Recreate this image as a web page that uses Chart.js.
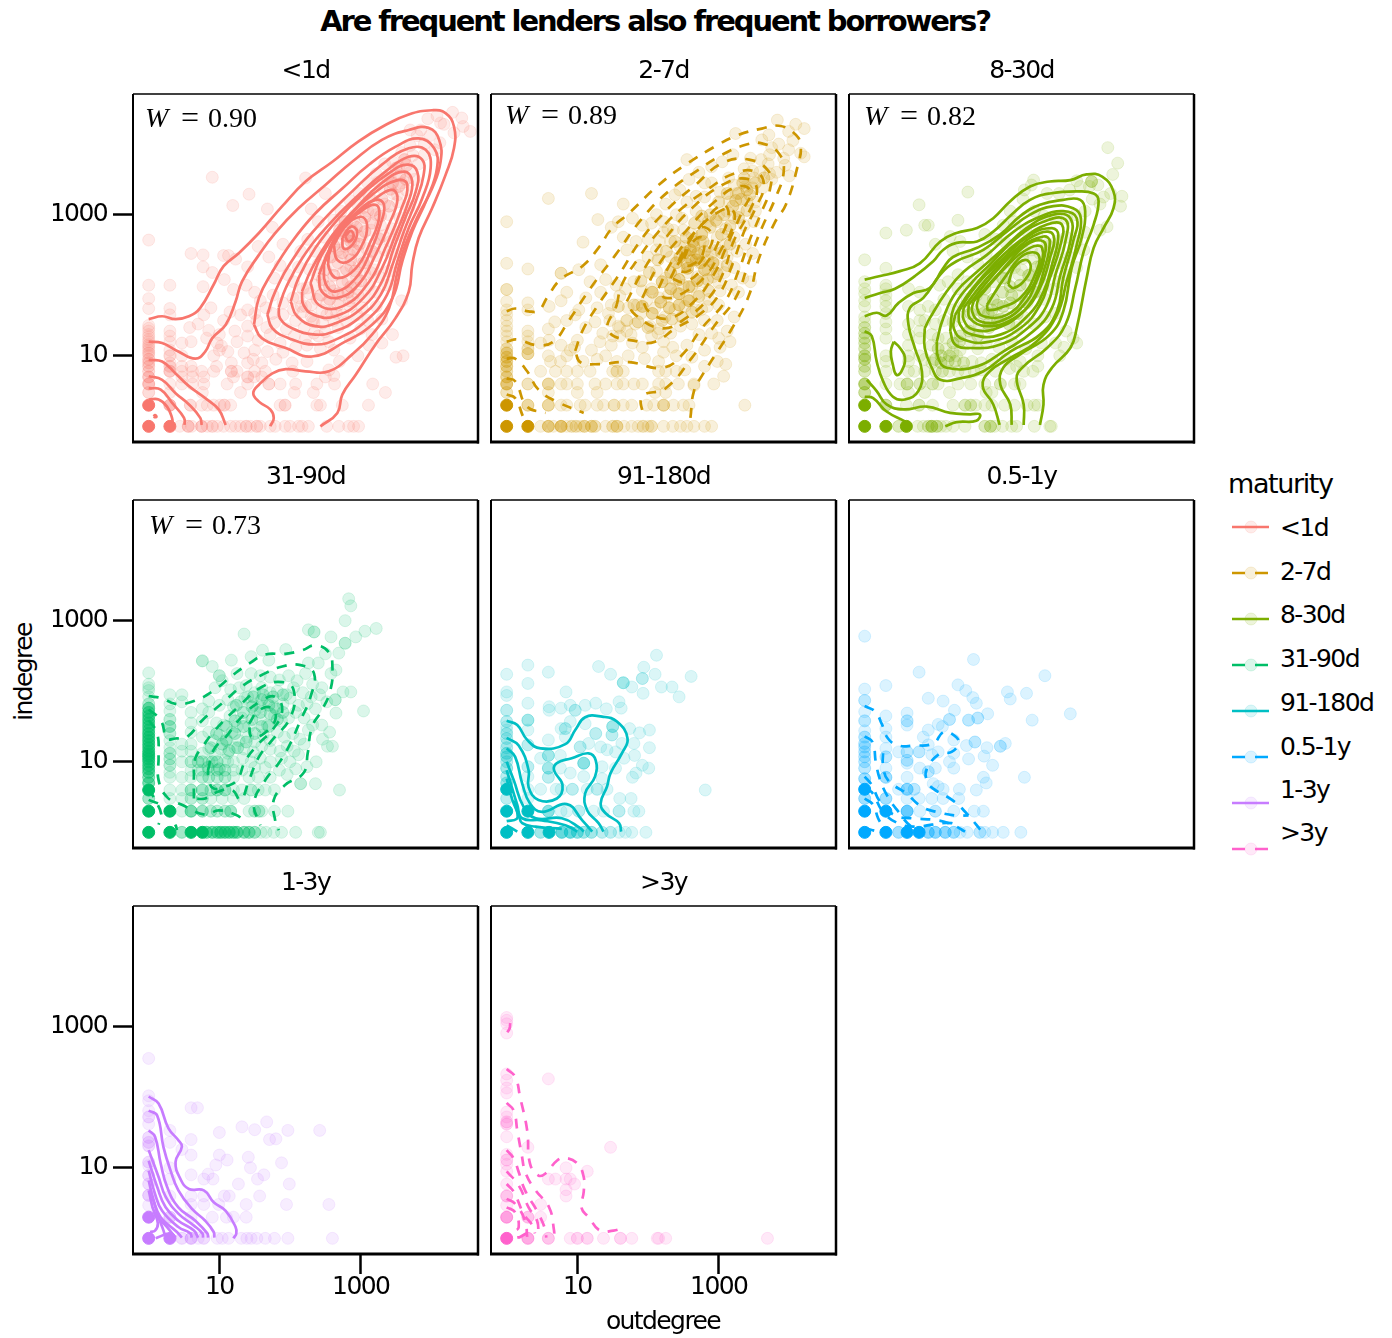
<!DOCTYPE html>
<html>
<head>
<meta charset="utf-8">
<script src="https://cdn.jsdelivr.net/npm/chart.js@4/dist/chart.umd.min.js"></script>
<style>
  html, body { margin: 0; background: #fff; }
  #page { position: relative; width: 1392px; height: 1338px; overflow: hidden; font-family: "DejaVu Sans"; color: #000; }
  #page canvas { position: absolute; }
  .txt { position: absolute; white-space: nowrap; letter-spacing: -1.6px; font-size: 25px; line-height: 30px; }
</style>
</head>
<body>
<div id="page"></div>
<script>
// all degree values are log10(degree) x 100. third number = overplotted count
const maturities = ["<1d", "2-7d", "8-30d", "31-90d", "91-180d", "0.5-1y", "1-3y", ">3y"];
const colors = ["#F8766D", "#CD9600", "#7CAE00", "#00BE67", "#00BFC4", "#00A9FF", "#C77CFF", "#FF61CC"];
const wLabels = ["0.90", "0.89", "0.82", "0.73", null, null, null, null];
const tickValues = [10, 1000];

const pointsLt1d = [
  [0,264],[0,200],[0,181],[0,167],[0,143],[0,139],[0,135],[0,130],[0,127],[0,123],[0,120],[0,116],[0,114],[0,111],[0,108],[0,104,2],[0,100],[0,95,2],[0,90,2],[0,85,2],[0,78,2],[0,70,3],[0,60,4],[0,48,2],[0,30,25],[0,0,30],
  [30,200],[30,167],[30,158],[30,135],[30,128],[30,120],[30,108],[30,100,2],[30,90],[30,85,2],[30,78,3],[30,60],[30,48],[30,30,4],[30,0,25],
  [44,0],[56,0,3],[61,0],[75,0,3],[83,0],[90,0,2],[97,0],[106,0],[116,0],[123,0],[130,0],[138,0,2],[144,0],[153,0,2],[158,0],[172,0],[179,0],[193,0],[200,0],[212,0],[217,0],[226,0],[252,0],[269,0],[283,0],[290,0],[297,0],
  [59,30,2],[75,30],[83,30],[92,30],[101,30],[107,30,2],[116,30],[186,30],[193,30,2],[238,30],[243,30],[274,30],[311,30],
  [76,48],[130,48],[206,48],[233,48],[335,48],[47,60],[62,60],[78,60],[111,60],[140,60],[170,60,2],[186,60],[208,60],[238,60],[263,60],[317,60],
  [47,70],[62,70],[78,70],[120,70],[140,70,2],[149,70],[160,70],[250,70],[262,72],[47,78],[62,78],[75,78],[92,78],[117,78,2],[125,78],[150,78],[165,78],[204,78],[255,80],
  [47,85],[60,85],[96,85],[117,90],[140,90],[148,95],[160,90],[180,95],[203,90],[224,92],[270,92],[350,98],[360,100],
  [47,100],[92,100],[100,108],[112,106],[135,104],[150,108],[168,106],[190,105],[208,112],[224,115],[243,110],[262,108],[296,100],[312,115],[330,118],
  [47,118],[60,120],[82,125],[97,118],[103,114],[125,120],[140,128],[155,122],[172,130],[186,118],[206,128],[222,125],[240,128],[255,120],[285,125],[316,130],[345,130],
  [58,140],[70,145],[85,136],[100,130],[122,135],[140,142],[153,150],[167,140],[178,147],[195,138],[208,150],[220,140],[234,132],[250,134],[268,140],[300,138],[330,152],
  [78,158],[88,168],[106,150],[115,162],[130,158],[140,165],[150,160],[166,168],[175,160],[190,158],[205,165],[218,162],[232,150],[246,146],[262,150],[280,148],[310,150],[358,178],
  [77,198],[90,218],[107,208],[120,194],[60,245],[77,243],[77,226],[106,242],[113,242],[123,237],[140,226],[138,200],[150,190],[158,178],[176,186],[190,175],[204,182],[216,170],[230,172],[245,165],[258,162],[275,158],[295,158],
  [90,353],[142,329],[119,313],[168,308],[175,282],[190,258],[155,255],[170,240],[186,228],[197,215],[178,210],[205,205],[218,195],[228,188],[238,180],[252,175],[268,172],[285,170],[302,168],[322,170],
  [222,352],[230,308],[250,330],[240,290],[225,265],[215,248],[236,248],[212,226],[228,222],[240,215],[248,200],[262,192],[275,186],[288,182],[305,184],[322,190],[338,200],
  [248,268],[262,292],[255,242],[268,250],[264,228],[275,218],[282,205],[295,195],[312,200],[326,212],[340,220],[345,245],
  [272,305],[285,320],[298,330],[280,290],[292,300],[275,272],[288,278],[300,285],[268,262],[278,255],[290,262],[302,268],[315,278],[272,240],[284,244],[296,248],[308,252],[320,260],[332,270],[286,226],[298,230],[310,236],[322,242],[334,250],[294,212],[306,216],[318,222],[284,268,2],[280,270,2],[290,250,2],[276,282],[296,270],
  [310,345],[322,358],[334,372],[318,320],[330,338],[342,352],[354,368],[310,305],[322,300],[334,315],[346,330],[358,345],[370,360],[328,285],[340,300],[352,318],[364,335],[376,350],[344,280],[356,295],[368,310],[342,262],[354,272],[345,375],[358,388],[370,398],[382,372],[390,385],[345,345,2],[355,355,2],[365,370,2],
  [385,420],[395,436],[408,440],[418,428],[398,412],[405,392],[390,400],[412,402],[430,445],[443,437],[432,416],[413,430],[445,425],[455,418],[380,412],[370,420]
];
const coreLt1d = [
  [270,278,2],[278,290,2],[286,262,2],[294,282,2],[262,256,2],[274,246,2],[286,236,2],[298,258,2],[306,276,2],[268,232],[280,222,2],[292,220,2],[304,232,2],[316,248,2],[326,266,2],[258,240,2],[250,222,2],[262,214,2],[274,204,2],[286,198,2],[300,206,2],[314,218],[240,230],[246,208,2],[256,198,2],[268,188,2],[282,190,2],[296,186],[236,200],[244,186,2],[256,180,2],[270,176],[284,178],[306,296,2],[318,306,2],[330,322,2],[342,336,2],[354,340,2],[316,288,2],[328,298,2],[340,312,2],[352,328],[364,350,2],[338,352,2],[350,366,2],[362,378,2],[374,384],[230,156],[222,170],[212,182],[224,196],[234,148],[252,158],[266,160],[290,292],[304,310],[296,314],[312,326],[324,346]
];
const openLt1d = [
  [[0,152],[19,156],[38,152],[57,156],[73,168],[92,201],[106,227],[127,245],[156,274],[189,312],[222,347],[260,375],[297,404],[335,427],[368,442],[401,448],[420,444],[432,425],[432,394],[420,356],[401,309],[382,267],[373,229],[368,191],[349,153],[321,116],[293,73],[274,45],[267,19],[243,0]],
  [[0,120],[19,118],[42,106],[66,96],[80,106],[90,125],[109,144],[123,177],[132,205],[156,243],[179,274],[212,309],[250,342],[288,375],[330,406],[368,420],[396,423],[411,406],[413,375],[401,337],[382,300],[363,257],[352,219],[340,167],[316,130],[288,102],[255,78],[222,78],[194,81],[175,75],[156,59],[148,47],[156,35],[172,24],[177,12],[172,0]],
  [[0,94],[19,92],[38,75],[57,57],[80,40],[99,24],[109,2]],
  [[0,71],[19,66],[38,47],[57,31],[73,12],[75,2]],
  [[0,54],[17,52],[35,31],[50,12],[51,2]],
  [[0,38],[14,38],[26,28],[33,12],[34,2]]
];
const closedLt1d = [
  [[7,14],[9,16],[11,14],[9,13]],
  [[149,144],[156,182],[175,219],[203,262],[236,302],[274,337],[312,371],[349,396],[382,408],[404,394],[408,366],[394,323],[373,276],[359,234],[345,182],[316,144],[278,120],[231,99],[194,111],[160,125]],
  [[168,158],[179,191],[208,243],[245,290],[288,333],[330,371],[368,394],[392,392],[399,366],[387,323],[368,281],[352,234],[337,186],[307,149],[269,125],[236,116],[198,125],[175,139]],
  [[184,168],[194,196],[217,238],[255,286],[297,328],[335,361],[368,382],[387,378],[389,356],[378,319],[361,276],[345,229],[328,186],[297,153],[264,135],[236,130],[203,139],[186,153]],
  [[201,177],[212,210],[236,253],[269,295],[307,333],[340,359],[366,371],[380,361],[378,333],[363,295],[347,253],[330,205],[302,168],[264,146],[236,142],[210,156]],
  [[217,191],[231,224],[260,271],[293,309],[330,345],[361,361],[373,347],[366,314],[349,271],[330,224],[304,182],[264,156],[234,158],[219,172]],
  [[229,203],[245,243],[278,290],[316,328],[352,349],[366,342],[356,304],[335,253],[312,205],[274,170],[241,172]],
  [[241,215],[257,253],[288,295],[321,323],[345,335],[352,321],[340,286],[321,243],[297,201],[267,182],[245,191]],
  [[248,229],[262,264],[293,302],[321,321],[333,314],[328,286],[314,248],[293,210],[264,191],[250,203]],
  [[255,243],[269,276],[297,302],[321,314],[326,295],[314,262],[293,224],[267,210],[255,224]],
  [[262,257],[278,283],[300,297],[309,286],[302,257],[283,234],[267,236]],
  [[274,267],[286,283],[295,276],[288,257],[276,252]],
  [[278,269],[286,277],[290,269],[283,262]]
];

const points2to7d = [
  [0,231],[0,194,2],[0,177],[0,165],[0,158],[0,150],[0,142],[0,135],[0,128],[0,120],[0,110,2],[0,104,3],[0,98,3],[0,92,3],[0,85,3],[0,78,2],[0,70,3],[0,60,5],[0,48,2],[0,30,18],[0,0,25],
  [30,223],[30,175],[30,165],[30,135],[30,128],[30,120],[30,110,2],[30,103,3],[30,60],[30,30,3],[30,0,22],
  [48,0],[59,0,4],[66,0],[77,0,5],[85,0],[92,0,2],[98,0,2],[104,0],[110,0,3],[120,0,3],[125,0,2],[140,0],[150,0,2],[156,0,3],[166,0],[177,0],[186,0],[193,0,2],[200,0],[205,0,2],[222,0],[235,0],[246,0],[255,0],[265,0],[280,0],[290,0],
  [59,30,3],[77,30],[85,30],[104,30],[111,30],[128,30],[137,30],[152,30,2],[165,30],[177,30],[198,30],[208,30],[222,30],[222,30,2],[236,30],[250,30],[258,30],[337,30],
  [59,48],[100,48],[128,48],[210,48],[225,48],[265,60],[30,60],[59,60,3],[77,60],[85,60],[100,60],[125,60],[140,60],[156,60],[165,60],[180,60],[192,60],[215,60],[225,60],[243,60],[265,58],[293,60],[307,71],
  [48,78],[69,78],[85,78],[100,78],[118,78],[150,78],[156,78,2],[165,78],[215,78],[225,78],[240,78],[252,80],[280,85],[298,92],[310,88],
  [59,100],[62,92],[76,92],[85,100],[90,108],[108,92],[128,95],[140,100],[156,92],[172,100],[195,96],[215,92],[222,105],[240,100],[262,98],[280,108],[302,112],[316,120],[300,125],
  [48,118],[60,122],[77,115],[96,112],[100,122],[120,108],[132,120],[148,115],[160,128],[178,118],[192,112],[205,128],[222,120],[235,112],[255,115],[272,130],[290,132],[312,135],
  [59,138],[68,148],[85,150],[97,158],[112,140],[125,148],[136,132],[144,160],[158,142],[170,135],[182,145],[190,160],[203,142],[216,138],[232,132],[246,142],[262,145],[280,150],[298,150],[322,155],
  [60,170],[77,178],[85,190],[102,165],[112,182],[128,168],[133,190],[148,172],[160,185],[172,168],[185,172],[198,178],[210,168],[224,155],[238,165],[252,170],[268,165],[284,170],[300,172],[328,190],
  [77,217],[77,217],[102,222],[133,229],[118,205],[140,208],[155,200],[168,195],[180,205],[192,192],[205,195],[216,182],[228,185],[240,190],[255,180],[270,188],[286,180],[302,192],[318,200],[334,210],[345,205],
  [0,290],[120,330],[59,323],[165,315],[129,293],[108,261],[158,290],[148,282],[165,268],[178,295],[170,250],[183,262],[192,285],[200,240],[212,220],[225,210],[238,208],[250,200],[262,198],[278,205],[292,212],[308,218],[322,225],
  [188,228],[200,265],[212,250],[222,275],[232,240],[244,225],[256,218],[270,212],[285,222],[298,228],[312,240],[326,248],[338,258],[348,245],
  [212,300],[225,315],[238,328],[205,288],[222,290],[236,278],[248,295],[232,262],[245,255],[258,240],[272,232],[284,240],[298,250],[310,258],[322,268],[336,285],[350,290],
  [245,335],[258,350],[272,360],[255,318],[268,305],[280,325],[250,278],[262,272],[274,262],[286,255],[298,268],[310,280],[322,295],[260,250,3],[270,245,3],[262,235,2],[280,248,2],[275,232,2],[265,255,2],[255,230,2],[285,235],[290,245],[245,240,2],[278,262,2],[252,255],
  [290,345],[302,332],[315,318],[328,305],[340,320],[352,305],[300,300],[285,290],[298,290],[312,305],[325,330],[338,340],[350,352],[362,338],[375,350],[290,368],[305,375],[320,385],[336,365],[345,380],[358,360],[370,372],[382,360],[394,370],[400,355],
  [328,330,2],[340,335,2],[334,345,2],[322,342],[348,338],[314,352],[255,378],[324,415],[383,434],[409,428],[421,422],[399,418],[371,413],[361,406],[399,392],[416,387],[421,382],[375,395],[392,380],[385,400],[405,405]
];
const core2to7d = [
  [240,232,3],[252,246,3],[264,262,3],[276,272,3],[288,282,2],[232,218,3],[244,208,3],[256,224,3],[268,236,3],[280,222,3],[292,232,3],[304,246,2],[316,258,2],[220,205,3],[232,195,3],[244,188,3],[258,198,3],[270,206,3],[284,208,2],[298,216,2],[312,228,2],[206,190,3],[218,176,3],[230,168,3],[244,172,3],[258,178,3],[272,184,2],[286,192,2],[300,204],[192,170,3],[206,160,3],[220,150,2],[234,152,2],[248,155,2],[262,162,2],[276,166],[180,172,2],[186,148,2],[200,140,2],[214,132],[170,150,2],[176,130],[158,170,2],[146,150],[160,140],[150,128],
  [296,292,2],[308,300,2],[320,312,2],[332,322,2],[344,328,2],[304,272,2],[316,284,2],[328,296,2],[340,306,2],[352,318],[300,318,2],[312,330,2],[324,320,2],[336,352,2],[352,345,2],[364,352,2],[372,358],[288,300,2],[276,298,2],[266,288,2],[254,268,2],[238,262,2],[226,248,2],[214,236,2],[202,218,2],[190,206,2],[268,326],[280,345],[240,300],[228,280],[216,262],[348,362],[360,378],[372,385]
];
const open2to7d = [
  [[0,163],[12,167],[31,163],[45,164],[57,182],[76,208],[107,227],[130,253],[149,281],[173,302],[215,342],[252,370],[299,399],[328,413],[361,422],[385,426],[406,416],[416,399],[411,366],[395,314],[380,290],[357,238],[343,186],[319,139],[295,101],[277,73],[265,50],[260,12]],
  [[0,120],[15,123],[43,115],[66,120],[88,150],[118,195],[154,243],[192,295],[229,333],[272,364],[305,385],[338,399],[361,401],[385,387],[392,361],[380,323],[361,281],[343,234],[324,182],[295,144],[262,97],[225,54],[192,42],[194,12]],
  [[0,96],[12,96],[29,78],[45,52],[71,35],[109,19]],
  [[0,68],[12,64],[29,28],[55,19]],
  [[0,45],[12,40],[24,12],[29,5]]
];
const closed2to7d = [
  [[97,107],[107,135],[130,173],[159,215],[192,267],[229,309],[267,342],[305,373],[343,378],[371,361],[373,338],[359,300],[343,262],[328,220],[309,177],[276,139],[248,101],[220,83],[173,91],[125,88],[104,91]],
  [[156,173],[163,201],[187,239],[215,276],[248,309],[286,337],[321,358],[352,361],[364,342],[352,309],[336,276],[321,234],[300,186],[272,158],[239,139],[210,120],[187,120],[144,135]],
  [[170,177],[192,219],[225,267],[262,309],[305,342],[338,351],[354,337],[343,304],[321,262],[307,219],[286,182],[253,153],[220,139],[182,158]],
  [[192,182],[215,229],[253,276],[295,319],[328,340],[345,333],[333,304],[312,257],[293,215],[265,177],[229,153],[201,163]],
  [[215,196],[234,234],[267,276],[300,304],[319,307],[321,286],[302,248],[283,215],[253,191],[225,182]],
  [[232,210],[253,253],[276,286],[305,314],[314,300],[300,262],[281,229],[253,205]],
  [[248,238],[272,281],[291,272],[281,243],[257,220],[241,224]],
  [[251,238],[262,260],[277,267],[277,243],[262,229],[253,229]]
];

const points8to30d = [
  [0,236],[0,205],[0,195],[0,188],[0,178],[0,170],[0,155],[0,148],[0,140,2],[0,132,2],[0,125,2],[0,118,2],[0,110,2],[0,100,3],[0,95,3],[0,85,2],[0,78,2],[0,60,5],[0,48,3],[0,30,25],[0,0,30],
  [30,274],[30,224],[30,200],[30,195],[30,186],[30,178],[30,170],[30,160],[30,148],[30,138],[30,125],[30,100],[30,92],[30,78],[30,60],[30,30,3],[30,0,25],
  [48,0,2],[59,0,8],[75,0],[83,0],[90,0,2],[95,0,5],[102,0,3],[108,0],[115,0],[125,0],[142,0],[170,0,2],[178,0,3],[184,0],[195,0],[208,0],[215,0],[240,0],[262,0],[264,0],
  [59,30],[77,30,2],[96,30],[125,30],[142,30,2],[150,30,2],[157,30],[170,30],[180,30],[198,30],[212,30],[230,30],[245,30],[240,30],[50,60],
  [60,60,3],[78,60,2],[96,60,2],[104,60],[132,60],[150,60],[170,60],[192,60,2],[212,60],[220,60],[62,48],[85,48],[120,48],[172,48],[180,48],[238,78],[225,78],[245,85],
  [62,78],[70,78],[85,78],[100,78],[110,78,2],[120,78],[132,78],[142,78],[155,78],[165,80],[185,78],[205,82],[215,85],[62,92],[62,100],[78,100],[85,95],[95,90],[108,90,2],[118,92,2],[128,92,2],[140,90,2],[152,92],[165,90],[180,95],[200,95],[220,92],[245,100],
  [62,115],[62,130],[62,145],[78,125],[78,135],[78,150],[78,165],[95,115],[95,130],[104,110,2],[104,125],[115,110],[115,125],[125,105],[125,118,2],[135,108],[135,128,2],[150,120],[160,110],[172,118],[190,112],[208,120],[228,110],[250,118],[270,118],[282,112],[295,125],[285,135],[300,118],[276,100],
  [62,170],[62,195],[78,190],[90,170],[85,150],[100,145],[100,165],[112,150],[112,180],[125,148],[125,165],[135,155],[140,170],[150,145],[150,160,2],[162,145],[162,165],[175,145,2],[175,160,2],[188,150,2],[188,172,2],[200,155],[215,140],[225,155],[240,145],[255,155],[270,160],
  [106,200],[118,205],[132,195],[132,215],[145,180],[145,205],[158,185],[158,200],[170,178,2],[170,195,2],[182,180,2],[182,205],[195,190,2],[195,210,2],[206,175,2],[206,198,2],[218,185],[218,215],[230,175],[230,200],[242,190],[255,180],[268,195],
  [146,332],[77,314],[132,292],[85,285],[90,285],[59,278],[121,269],[100,258],[135,262],[125,248],[145,240],[160,230],[172,245],[185,232],[198,225],[210,235],[222,222],[235,215],[248,210],[262,220],[275,205],[285,215],
  [170,272],[186,265],[200,260],[212,250],[226,248],[238,238],[250,228],[265,240],[278,232],[290,240],[300,225],[310,250],[196,285],[212,290],[228,278],[244,270],[258,258],[272,262],[285,268],[300,262],[312,275],[206,305],[224,322],[240,305],[254,298],[270,295],[286,295],[298,300],[312,305],[226,335],[239,349],[236,342],[258,330],[275,330],[290,335],[305,340],
  [344,395],[358,373],[351,357],[364,326],[362,312],[321,347,3],[318,340],[330,342],[338,325],[322,322],[333,315],[343,283],[333,278],[348,330],[300,348]
];
const core8to30d = [
  [196,170,2],[208,186,2],[220,200,2],[232,214,2],[244,226,2],[180,165,2],[192,152,2],[204,145,2],[216,160,2],[228,176,2],[240,190,2],[252,202],[168,160,2],[176,140,2],[160,128,2],[148,135,2],[134,120,2],[120,100,2],[108,100,2],[100,95,2],[130,100],[200,210],[212,225],[224,238],[236,250],[248,245],[260,255],[272,250]
];
const open8to30d = [
  [[0,208],[22,213],[50,220],[78,231],[107,262],[130,274],[159,281],[182,295],[206,319],[234,340],[262,347],[291,349],[314,357],[336,354],[352,333],[352,309],[338,281],[324,253],[314,210],[300,139],[291,111],[265,83],[253,59],[253,31],[248,2]],
  [[0,182],[22,189],[43,195],[71,213],[97,234],[111,250],[130,260],[159,262],[182,276],[210,302],[234,321],[262,330],[300,333],[324,330],[331,319],[324,286],[310,248],[298,196],[284,144],[258,111],[225,85],[215,68],[225,31],[225,2]],
  [[0,156],[17,161],[31,157],[48,175],[69,189],[92,196],[111,224],[125,240],[159,253],[192,272],[220,298],[248,314],[281,321],[305,321],[312,305],[307,267],[293,225],[281,163],[262,130],[220,102],[196,83],[192,59],[206,31],[208,2]],
  [[0,135],[10,128],[17,92],[26,64],[40,42],[57,38],[76,50],[81,78],[71,111],[62,144],[64,168],[83,182],[107,215],[130,234],[168,250],[201,276],[234,300],[267,312],[295,309],[306,295],[300,257],[286,206],[272,158],[243,120],[206,97],[177,78],[167,57],[182,31],[191,2]],
  [[3,66],[17,50],[31,31],[55,24],[88,28],[121,19],[149,17],[163,17],[158,8],[130,6],[114,0]],
  [[0,42],[12,40],[31,21],[57,7]]
];
const closed8to30d = [
  [[41,120],[50,111],[57,97],[52,78],[45,73],[40,87],[37,106]],
  [[85,139],[92,153],[116,191],[140,219],[173,243],[211,276],[248,297],[281,305],[300,295],[295,262],[281,210],[272,163],[248,130],[206,106],[168,78],[135,68],[107,66],[95,83],[85,111]],
  [[102,120],[111,153],[130,191],[159,219],[192,248],[229,281],[267,300],[291,295],[291,262],[277,215],[265,168],[239,135],[196,106],[159,85],[116,83],[104,97]],
  [[121,135],[126,168],[149,201],[177,229],[215,267],[253,290],[284,293],[284,262],[270,215],[258,172],[234,142],[192,116],[149,111],[128,116]],
  [[128,158],[149,191],[187,234],[225,267],[258,286],[279,286],[277,257],[262,210],[248,172],[220,139],[177,120],[140,123],[126,139]],
  [[133,163],[159,201],[196,238],[234,271],[265,281],[274,271],[265,229],[253,191],[232,158],[192,130],[152,130],[135,144]],
  [[140,168],[173,210],[211,248],[248,274],[267,271],[262,238],[248,196],[225,163],[187,139],[154,137],[140,151]],
  [[147,172],[182,215],[220,253],[253,269],[262,262],[253,219],[239,182],[211,153],[173,142],[149,153]],
  [[154,177],[192,219],[229,257],[253,262],[255,243],[243,205],[225,172],[192,149],[163,149],[152,163]],
  [[161,182],[201,227],[234,253],[251,253],[246,219],[229,186],[201,158],[168,156],[159,168]],
  [[173,172],[201,215],[225,243],[246,243],[241,215],[220,182],[192,168],[175,165]],
  [[203,201],[211,224],[227,236],[235,227],[227,208],[211,196]]
];

const points31to90d = [
  [0,226],[0,210],[0,205],[0,201],[0,192],[0,182,2],[0,176,5],[0,170,5],[0,165,5],[0,160,5],[0,155,5],[0,150,5],[0,145,5],[0,140,6],[0,135,6],[0,130,6],[0,125,6],[0,120,6],[0,115,6],[0,111,6],[0,108,6],[0,104,6],[0,100,5],[0,95,5],[0,90,5],[0,85,5],[0,78,4],[0,70,5],[0,60,12],[0,48,3],[0,30,30],[0,0,30],
  [30,195],[30,182],[30,172],[30,160,2],[30,150,3],[30,140,2],[30,130],[30,120],[30,112,2],[30,104,2],[30,95,2],[30,85],[30,78],[30,60],[30,48],[30,30,10],[30,0,30],
  [47,0,3],[60,0,12],[76,0,8],[82,0,5],[90,0,5],[97,0,5],[102,0,6],[108,0,6],[114,0,6],[120,0,5],[125,0,5],[135,0,4],[142,0,4],[150,0,3],[159,0],[166,0],[177,0],[188,0],[208,0],[243,0],[240,0],
  [47,30],[60,30,5],[76,30,3],[88,30,2],[97,30,2],[108,30,2],[116,30,3],[142,30],[150,30,2],[156,30,2],[160,30],[178,30],[197,30],[47,48],[60,48,2],[76,48,2],[88,48],[104,48],[120,48],[135,48],
  [47,60],[60,60,3],[76,60,3],[88,60,2],[97,60,3],[108,60,3],[120,60],[132,60],[145,60,2],[155,60],[165,60],[178,60],[270,60],[215,69,2],[236,69],
  [47,78],[60,78],[76,78,2],[85,78,2],[97,78,2],[108,78,2],[120,78],[142,78],[155,78],[172,78],[60,88],[76,88],[85,88],[97,88,2],[108,88,2],[120,88],[132,88],[150,92],[165,92],[185,88],[196,82],[208,90],[224,93],[237,100],
  [47,100],[60,100,2],[76,100,2],[85,100],[97,100,2],[108,102],[120,100],[133,105],[145,100],[158,105],[172,100],[188,105],[200,100],[212,110],
  [47,115],[47,125],[60,115],[60,125],[76,112],[85,118],[94,110],[102,118],[112,112],[122,120],[135,118],[148,114],[160,122],[172,118],[186,115],[196,122],[206,115],[220,125],
  [60,142],[60,155],[76,135],[85,142],[92,130],[100,138],[110,132],[118,142],[128,130],[140,135],[150,128],[162,138],[172,130],[182,142],[192,135],[204,140],[214,132],[226,145],
  [60,170],[76,158],[85,170],[96,155],[106,152],[115,165],[125,150],[132,162],[142,150],[150,172],[158,160],[168,152],[178,165],[188,158],[198,162],[208,170],[220,162],[232,152],
  [47,185],[47,195],[76,175],[85,186],[100,180],[112,188],[120,178],[130,185],[140,192],[148,180],[158,178],[168,188],[178,178],[190,182],[200,190],[212,180],[224,182],[236,175],[245,152],[256,142],[246,132],[260,122],[253,122],
  [94,205],[104,215],[116,202],[128,205],[138,208],[150,198],[160,205],[172,198],[182,200],[195,195],[205,205],[218,198],[230,192],[242,195],[252,185],
  [76,243,2],[90,235],[117,244],[145,249],[161,258],[194,259],[170,244],[135,281],[100,222,2],[125,225],[145,225],[158,222],[172,220],[185,216],[198,222],[210,215],[222,225],[232,210],[245,205],[258,225],[265,230],[250,253],[240,240],[226,240],
  [283,331],[286,321],[278,300],[322,289],[306,285],[293,277],[278,268,2],[258,277],[234,284,2],[226,287],[269,254],[304,172],[286,199],[275,199],[264,188,2],[265,169]
];
const core31to90d = [
  [110,130,2],[122,140,2],[134,150,2],[146,160,2],[158,170,2],[170,180,2],[110,150,2],[122,158,2],[134,170,2],[146,178,2],[160,188,2],[172,168,2],[182,160,2],[150,140,2],[138,128,2],[126,120,2],[114,116,2],[104,125,2],[96,140,2],[88,120,2],[170,150,2],[180,175,2],[190,170,2],[160,150,2],[148,192,2],[162,195,2],[176,192,2],[190,195,2],[136,190],[124,180,2],[90,100,2],[100,90,2],[84,92,2],[112,100],[70,88],[70,100,2]
];
const open31to90d = [
  [[0,193],[19,190],[38,182],[64,186],[92,201],[118,222],[142,239],[165,252],[193,253],[217,258],[236,265],[255,255],[260,234],[257,201],[245,173],[231,149],[225,112],[219,84],[193,67],[177,46],[179,17],[184,3]],
  [[0,174],[17,159],[26,133],[38,133],[54,135],[76,159],[104,183],[132,207],[160,223],[189,235],[215,237],[234,225],[229,192],[215,159],[198,121],[184,98],[165,74],[149,41],[158,10]],
  [[0,159],[12,140],[14,107],[14,74],[26,50],[47,39],[80,25],[99,31],[123,25],[135,17]],
  [[0,62],[9,46],[18,25],[14,11]],
  [[0,46],[21,36],[38,10],[40,3]]
];
const closed31to90d = [
  [[64,48],[64,79],[66,105],[76,121],[94,145],[127,178],[160,206],[189,213],[205,202],[201,164],[175,131],[156,107],[142,74],[130,46],[118,60],[99,58],[80,48]],
  [[84,88],[92,117],[109,135],[132,164],[160,187],[179,192],[189,173],[175,145],[156,126],[137,102],[125,74],[109,65],[92,62],[85,74]],
  [[142,154],[156,173],[175,176],[179,159],[163,140],[146,135]]
];

const points91to180d = [
  [0,224],[0,199],[0,194],[0,173,2],[0,157,2],[0,150],[0,133,2],[0,126],[0,112,3],[0,107,3],[0,91,3],[0,79,2],[0,61,8],[0,30,12],[0,0,14],
  [0,145],[0,140,2],[0,120,2],[0,100,2],[0,70,3],[0,48,2],
  [30,237],[30,211],[30,183],[30,159,3],[30,145],[30,124,2],[30,93,2],[30,79],[30,61],[30,30,8],[30,0,12],
  [59,227],[130,235],[147,224],[165,212,3],[194,234],[192,218,2],[210,224],[212,251],[261,221],[219,206],[234,206],[244,192],[177,206],[193,197],[84,199],
  [60,178],[60,173],[77,176],[90,180],[97,173,2],[111,180],[126,183],[159,185],[141,175],[162,176],[90,157],[77,147],[83,147,2],[83,135],[111,154],[126,140,2],[150,150,3],[149,138,2],[174,147],[188,141],[202,145],[202,120],
  [59,131],[59,109,3],[48,105],[76,109],[104,121,2],[116,126],[133,121],[142,117],[154,114],[163,126],[180,126],[166,105],[181,109],[192,95],[201,91],[183,84],[178,78],[109,98,4],[90,84],[76,91],[59,91,3],[59,78,2],[135,93],[154,91],[109,79],[135,76],
  [48,61],[70,61],[77,61],[93,61,2],[114,61],[128,61,2],[142,61],[281,60],[160,48],[176,48],[30,48],
  [59,30,4],[77,30],[85,30],[102,30,2],[123,30],[137,30],[159,30,2],[180,30],[187,30],
  [48,0,3],[60,0,10],[78,0,6],[90,0,6],[100,0,4],[109,0,3],[120,0,3],[135,0,2],[147,0,2],[159,0],[168,0],[177,0],[197,0]
];
const open91to180d = [
  [[0,158],[15,152],[29,131],[48,119],[83,125],[97,145],[111,163],[135,164],[156,157],[171,133],[163,112],[147,84],[142,65],[133,41],[140,27],[159,13],[162,1]],
  [[0,134],[17,123],[31,88],[31,64],[45,46],[71,48],[79,67],[67,88],[71,98],[92,105],[116,112],[126,102],[125,79],[111,55],[114,31],[130,13],[137,1]],
  [[0,119],[12,107],[22,69],[33,41],[50,29],[85,40],[107,17],[121,1]],
  [[0,100],[10,74],[24,36],[41,20],[78,20],[104,6],[109,1]],
  [[0,88],[15,39],[22,20],[50,17],[83,10],[100,1]],
  [[0,76],[8,46],[17,25],[22,13],[41,8],[78,5]],
  [[10,45],[15,28],[14,19],[0,16]],
  [[0,10],[15,1]]
];
const closed91to180d = [];

const points05to1y = [
  [0,278],[0,203],[0,187,2],[0,171],[0,158,2],[0,144],[0,135,2],[0,126,2],[0,121,2],[0,114,2],[0,107,2],[0,100,2],[0,91,2],[0,76,3],[0,61,8],[0,48,3],[0,30,12],[0,0,14],
  [30,208],[77,227],[154,245],[255,222],[132,209],[143,201],[153,191],[158,183],[202,199],[206,189],[229,197],[90,190],[111,186],[127,173],[174,168],[291,168],[237,159],[30,165],[60,169],[60,158,2],[60,152],[120,160,2],[147,159,2],[160,162,2],[104,153],[110,150],[90,145],[30,147],[83,135],[30,135],[126,131],[156,128,2],[144,123],[173,120],[192,122,2],[199,126],
  [30,119],[30,107,2],[48,114],[60,114,2],[77,114,2],[104,114],[90,124],[95,110],[126,112],[169,108],[147,104],[181,95],[60,102,2],[60,98],[120,100],[78,91],[90,86,2],[100,91],[126,91],[30,91],[60,78],[30,78,3],[168,78],[172,70],[226,78],[97,69],[104,65],[134,61],[158,60],[111,61],[48,61],[60,61,4],[70,61,2],
  [30,48,3],[60,48],[77,48],[95,48],[111,48],[133,48],[30,30,8],[60,30,6],[78,30],[100,30,2],[126,30],[155,30],[168,30],
  [30,0,12],[48,0,3],[60,0,10],[77,0,8],[90,0,4],[100,0,4],[114,0,4],[126,0,3],[135,0],[145,0],[163,0,2],[170,0],[181,0],[196,0],[221,0]
];
const open05to1y = [
  [[0,179],[15,171],[24,154],[33,133],[48,123],[69,123],[97,126],[111,142],[123,140],[133,128],[123,114],[107,112],[88,90],[88,73],[97,62],[125,45],[144,27],[166,1]],
  [[0,136],[11,128],[16,98],[22,74],[33,50],[48,29],[66,8],[81,3]],
  [[26,112],[26,95],[33,74],[59,55],[81,36],[102,29],[128,24],[147,24]],
  [[0,79],[10,67],[22,43],[43,24],[66,20],[104,17],[126,10],[142,1]],
  [[0,62],[10,57],[26,29],[47,13],[69,8],[123,13],[130,3]],
  [[0,48],[12,39],[19,20],[26,8]],
  [[0,6],[15,2]]
];
const closed05to1y = [];

const points1to3y = [
  [0,255],[0,202],[0,195],[0,181],[0,172,2],[0,162],[0,143,2],[0,136,2],[0,131,2],[0,108,2],[0,103],[0,89,2],[0,77,2],[0,61,3],[0,47],[0,30,14],[0,0,16],
  [30,153],[30,136],[30,100],[30,84],[30,60],[30,30,3],[30,0,15],
  [60,185],[69,185],[60,140],[100,150],[132,158],[150,154],[167,165],[197,153],[242,153],[171,140],[180,141],[47,126],[60,118],[100,118],[111,111],[95,104],[141,115],[144,100],[188,107],[60,90],[84,91],[78,84],[91,84],[163,90],[154,84],[127,77],[199,77],
  [60,60],[78,60],[107,60],[114,60],[157,60],[60,48],[78,48],[99,48],[138,48],[195,48],[255,48],[60,30],[90,30],[110,30],[120,30],[138,30],
  [47,0,2],[60,0,4],[70,0],[78,0,2],[97,0],[104,0],[113,0],[131,0],[139,0],[145,0],[153,0],[165,0],[178,0],[197,0],[260,0]
];
const open1to3y = [
  [[0,201],[14,191],[28,156],[42,139],[47,130],[38,108],[45,84],[57,70],[78,68],[92,51],[109,39],[123,16],[124,7],[120,0]],
  [[0,181],[12,174],[21,129],[31,96],[42,68],[61,42],[80,25],[92,9],[93,1]],
  [[0,153],[9,144],[17,106],[26,73],[42,44],[66,25],[83,7],[84,1]],
  [[0,125],[14,87],[24,59],[42,35],[64,18],[76,7],[77,1]],
  [[0,110],[12,73],[24,44],[42,25],[64,11],[70,1]],
  [[0,96],[9,63],[19,39],[42,16],[59,7],[61,1]],
  [[0,82],[7,54],[17,30],[40,9],[47,1]],
  [[0,68],[9,35],[26,16],[38,1]],
  [[5,59],[14,30],[21,11],[23,3]],
  [[7,40],[13,21],[9,11],[2,9]],
  [[10,0],[26,7]]
];
const closed1to3y = [];

const pointsOver3y = [
  [0,313],[0,309],[0,304],[0,291],[0,233],[0,224],[0,213],[0,206],[0,179],[0,172],[0,165,2],[0,162,2],[0,144],[0,119],[0,111,2],[0,105],[0,95],[0,77],[0,60,3],[0,47],[0,30,6],[0,0,8],
  [30,129],[30,30,3],[30,0,5],[59,226],[147,129],[84,100],[114,95],[59,84],[69,84],[84,84],[90,84],[96,77],[84,69],[84,60],[48,48],[48,30],
  [59,0,3],[90,0],[100,0,2],[114,0,2],[137,0],[161,0,2],[177,0],[213,0],[215,0],[225,0],[369,0]
];
const openOver3y = [
  [[5,305],[4,297],[0,291]],
  [[0,240],[12,229],[19,200],[29,153],[33,106],[45,89],[55,92],[71,110],[83,114],[100,106],[109,87],[109,66],[106,43],[116,30],[132,11],[151,11],[163,14]],
  [[0,192],[10,181],[15,153],[21,120],[27,92],[41,68],[60,44],[67,11],[67,1]],
  [[0,125],[10,113],[17,94],[26,68],[45,35],[55,11],[56,1]],
  [[0,95],[17,75],[31,44],[43,25],[45,7]],
  [[0,77],[10,66],[24,35],[38,16],[40,7]],
  [[0,56],[12,49],[26,25],[29,2]],
  [[0,44],[12,37],[17,16],[10,9]],
  [[15,1],[19,2],[31,9]]
];
const closedOver3y = [];

const pointSets = [pointsLt1d.concat(coreLt1d), points2to7d.concat(core2to7d), points8to30d.concat(core8to30d), points31to90d.concat(core31to90d), points91to180d, points05to1y, points1to3y, pointsOver3y];
const openSets = [openLt1d, open2to7d, open8to30d, open31to90d, open91to180d, open05to1y, open1to3y, openOver3y];
const closedSets = [closedLt1d, closed2to7d, closed8to30d, closed31to90d, closed91to180d, closed05to1y, closed1to3y, closedOver3y];

const page = document.getElementById("page");
const FONT = "DejaVu Sans";
const lefts = [133, 491, 849], tops = [94, 500, 906];
const PW = 345, PH = 348, AXIS_W = 80, AXIS_H = 78, TITLE_H = 50;
const wPos = [[12, 33], [14, 30], [15, 31], [16, 34]];
const xMin = 10 ** -0.22, xMax = 10 ** 4.66, yMin = 10 ** -0.217, yMax = 10 ** 4.71;

function toXY(p) { return { x: 10 ** (p[0] / 100), y: 10 ** (p[1] / 100), n: p[2] || 1 }; }
function stackAlpha(n) { return n >= 8 ? 1 : 1 - Math.pow(0.86, n); }
function hexA(hex, a) { return hex + Math.round(a * 255).toString(16).padStart(2, "0"); }

// tight text like the original + panel frame
const framePlugin = {
  id: "frame",
  beforeDraw(chart) { chart.ctx.letterSpacing = "-1.6px"; },
  afterDraw(chart, args, opts) {
    const { ctx, chartArea: a } = chart;
    ctx.save();
    ctx.letterSpacing = "0px";
    ctx.strokeStyle = "#000";
    ctx.lineWidth = 1.5;
    ctx.beginPath(); ctx.moveTo(a.left, a.top); ctx.lineTo(a.right, a.top); ctx.stroke();
    ctx.lineWidth = 2;
    ctx.beginPath(); ctx.moveTo(a.left, a.top); ctx.lineTo(a.left, a.bottom); ctx.stroke();
    ctx.lineWidth = 2.5;
    ctx.beginPath(); ctx.moveTo(a.right, a.top); ctx.lineTo(a.right, a.bottom + 1.5); ctx.stroke();
    ctx.lineWidth = 3;
    ctx.beginPath(); ctx.moveTo(a.left - 1, a.bottom); ctx.lineTo(a.right + 1, a.bottom); ctx.stroke();
    if (opts.w) {
      ctx.fillStyle = "#000";
      ctx.textBaseline = "alphabetic";
      ctx.font = "italic 28px 'Liberation Serif'";
      ctx.fillText("W", a.left + opts.pos[0], a.top + opts.pos[1]);
      ctx.font = "32px 'Liberation Serif'";
      ctx.fillText("=", a.left + opts.pos[0] + 36, a.top + opts.pos[1] + 1);
      ctx.font = "28px 'Liberation Serif'";
      ctx.fillText(opts.w, a.left + opts.pos[0] + 63, a.top + opts.pos[1]);
    }
    ctx.restore();
  }
};

function axisOpts(show, min, max, isY) {
  return {
    type: "logarithmic",
    display: show,
    min: min,
    max: max,
    afterBuildTicks(s) { s.ticks = tickValues.map(v => ({ value: v })); },
    afterFit(s) {
      if (!show) return;
      if (isY) s.width = AXIS_W; else s.height = AXIS_H;
      s.paddingLeft = s.paddingRight = s.paddingTop = s.paddingBottom = 0;
    },
    border: { display: false },
    grid: { drawOnChartArea: false, tickLength: 20, tickWidth: 2.5, tickColor: "#000" },
    ticks: {
      autoSkip: false, maxRotation: 0, padding: isY ? 6 : -2,
      color: "#000", font: { family: FONT, size: 25 },
      callback: v => String(v)
    }
  };
}

maturities.forEach((label, i) => {
  const col = i % 3, row = Math.floor(i / 3);
  const showY = col === 0, showX = row === 2;
  const cv = document.createElement("canvas");
  const padL = showY ? AXIS_W : 3, padB = showX ? AXIS_H : 3;
  cv.width = padL + PW + 3;
  cv.height = TITLE_H + PH + padB;
  cv.style.left = (lefts[col] - padL) + "px";
  cv.style.top = (tops[row] - TITLE_H) + "px";
  page.appendChild(cv);

  const dash = i % 2 === 1 ? [10, 9] : [];
  const lineSet = (list, closed) => list.map(c => ({
    data: (closed ? c.concat([c[0]]) : c).map(toXY),
    showLine: true, tension: 0.45, order: 1,
    borderColor: colors[i], borderWidth: 2.7, borderDash: dash,
    pointRadius: 0, fill: false
  }));

  new Chart(cv, {
    type: "scatter",
    data: {
      datasets: [{
        data: pointSets[i].map(toXY),
        order: 2, showLine: false,
        pointRadius: 6, pointBorderWidth: 1,
        pointBackgroundColor: c => hexA(colors[i], stackAlpha(c.raw.n)),
        pointBorderColor: c => hexA(colors[i], stackAlpha(c.raw.n))
      }].concat(lineSet(openSets[i], false), lineSet(closedSets[i], true))
    },
    options: {
      responsive: false, animation: false, devicePixelRatio: 1, events: [],
      layout: { autoPadding: false, padding: { left: showY ? 0 : 3, right: 3, top: 0, bottom: showX ? 0 : 3 } },
      scales: { x: axisOpts(showX, xMin, xMax, false), y: axisOpts(showY, yMin, yMax, true) },
      plugins: {
        legend: { display: false }, tooltip: { enabled: false },
        title: { display: true, fullSize: false, text: label, color: "#000", font: { family: FONT, size: 25, weight: "normal", lineHeight: 1.2 }, padding: { top: 12, bottom: 8 } },
        frame: { w: wLabels[i], pos: wPos[i] }
      }
    },
    plugins: [framePlugin]
  });
});

function addText(text, x, y, extra) {
  const d = document.createElement("div");
  d.className = "txt";
  d.textContent = text;
  d.style.left = x + "px";
  d.style.top = y + "px";
  d.style.transform = "translateY(-50%)";
  Object.assign(d.style, extra || {});
  page.appendChild(d);
  return d;
}

addText("Are frequent lenders also frequent borrowers?", 655, 21, { transform: "translate(-50%,-50%)", fontWeight: "bold", fontSize: "29px", letterSpacing: "-2.1px" });
addText("outdegree", 663, 1321, { transform: "translate(-50%,-50%)" });
addText("indegree", 24, 672, { transform: "translate(-50%,-50%) rotate(-90deg)" });
addText("maturity", 1228, 484, { fontSize: "27px", letterSpacing: "-1.4px" });

const legendKeyY = [527, 573, 619, 665, 711, 757, 803, 849];
const legendTextY = [528, 572, 615, 659, 703, 747, 790, 833];
maturities.forEach((label, i) => {
  addText(label, 1280, legendTextY[i]);
  const s = document.createElementNS("http://www.w3.org/2000/svg", "svg");
  s.setAttribute("width", 40); s.setAttribute("height", 16);
  s.style.cssText = "position:absolute;left:1231px;top:" + (legendKeyY[i] - 8) + "px";
  const dashAttr = i % 2 === 1 ? 'stroke-dasharray="13 10"' : "";
  s.innerHTML = '<line x1="1" y1="8" x2="38" y2="8" stroke="' + colors[i] + '" stroke-width="2.6" ' + dashAttr + '/>' +
    '<circle cx="20" cy="8" r="6" fill="' + colors[i] + '" fill-opacity="0.14" stroke="' + colors[i] + '" stroke-opacity="0.14"/>';
  page.appendChild(s);
});
</script>
</body>
</html>
